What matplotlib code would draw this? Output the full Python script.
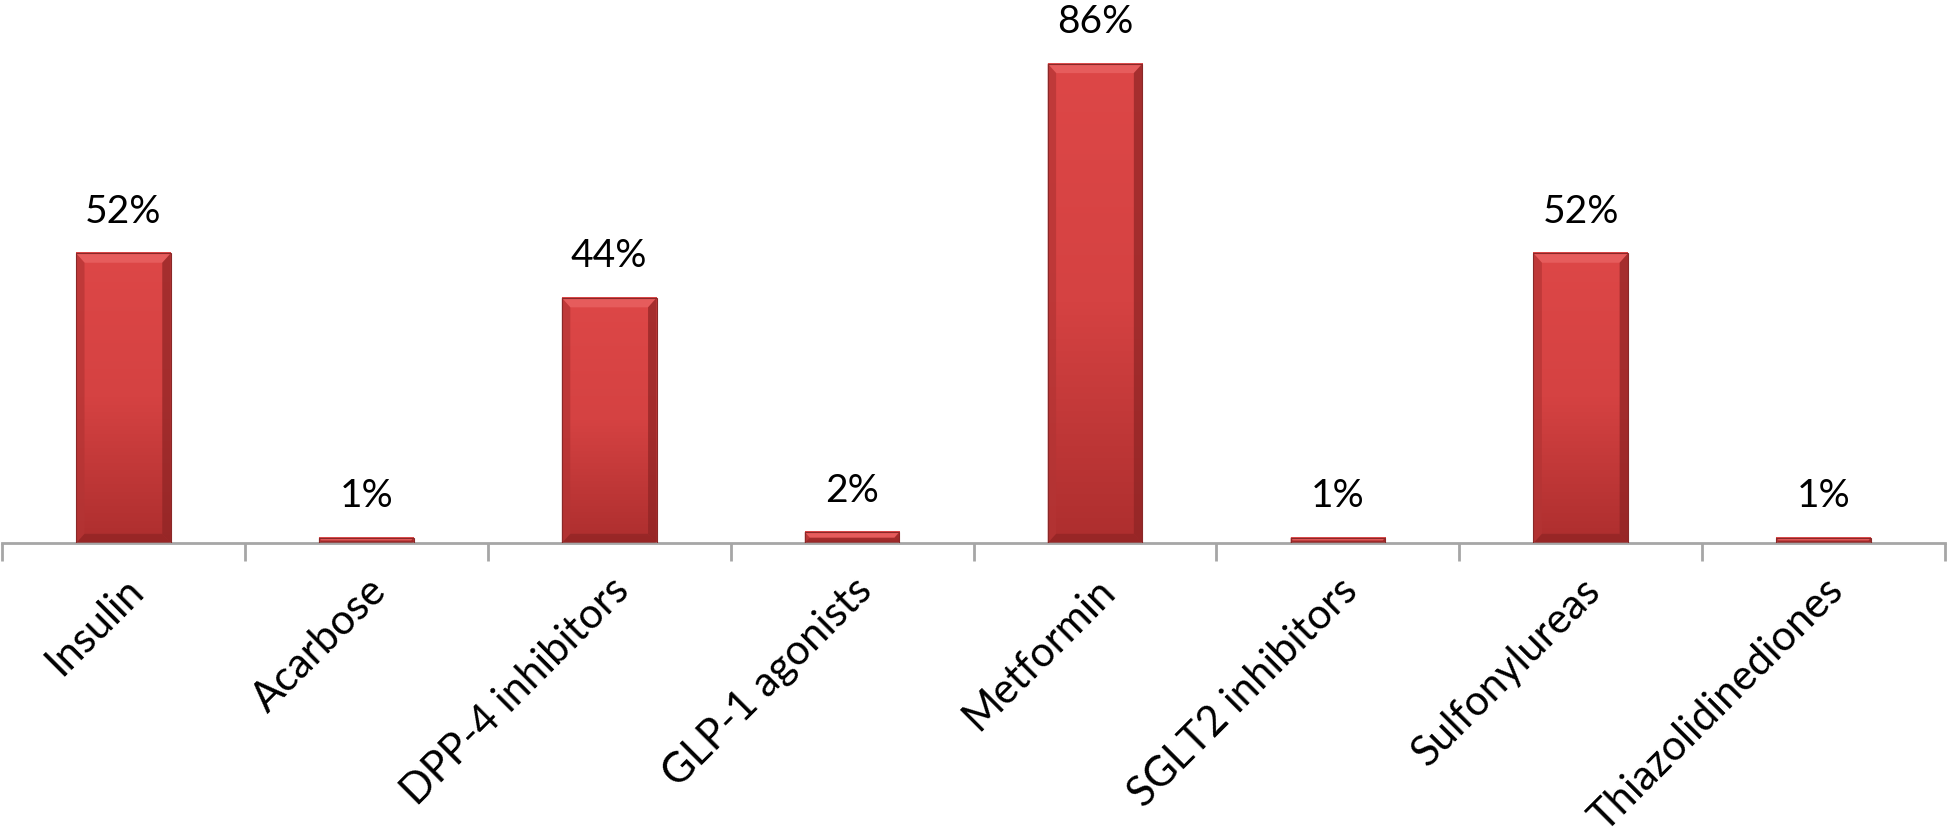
import numpy as np
import matplotlib
matplotlib.use('Agg')
import matplotlib.pyplot as plt
from matplotlib.patches import Polygon
from matplotlib.colors import LinearSegmentedColormap

# 資料
drugs = ['Insulin', 'Acarbose', 'DPP-4 inhibitors', 'GLP-1 agonists',
         'Metformin', 'SGLT2 inhibitors', 'Sulfonylureas', 'Thiazolidinediones']
usage = [52, 1, 44, 2, 86, 1, 52, 1]
value_labels = ['52%', '1%', '44%', '2%', '86%', '1%', '52%', '1%']

plt.rcParams['font.family'] = ['Lato', 'DejaVu Sans']

fig = plt.figure(figsize=(19.49, 8.32), dpi=100)
ax = fig.add_axes([0.001, 0.347, 0.997, 0.6])

x = np.arange(len(drugs))
bars = ax.bar(x, usage, width=0.39, color='#cf3f3f', zorder=2)

ax.set_xlim(-0.5, len(drugs) - 0.5)
ax.set_ylim(0, 89.5)

# 漸層 + 斜角效果
cmap = LinearSegmentedColormap.from_list('bar', ['#ad2e2e', '#d54242', '#dd4747'])
grad = np.linspace(0, 1, 256).reshape(-1, 1)
bx = 0.035   # 斜角寬度 (x 資料單位)
by = 1.7     # 斜角高度 (y 資料單位)
for b in bars:
    x0, y0 = b.get_x(), b.get_y()
    w, h = b.get_width(), b.get_height()
    b.set_visible(False)
    ax.imshow(grad, extent=(x0, x0 + w, y0, y0 + h), origin='lower', cmap=cmap,
              aspect='auto', zorder=2, interpolation='bilinear')
    dy = min(by, h / 2)
    dx = bx * dy / by
    top = Polygon([(x0, h), (x0 + w, h), (x0 + w - dx, h - dy), (x0 + dx, h - dy)],
                  closed=True, facecolor='#e65c5c', edgecolor='none', zorder=3)
    left = Polygon([(x0, 0), (x0, h), (x0 + dx, h - dy), (x0 + dx, dy)],
                   closed=True, facecolor='#b43434', edgecolor='none', zorder=3, alpha=0.7)
    right = Polygon([(x0 + w, 0), (x0 + w, h), (x0 + w - dx, h - dy), (x0 + w - dx, dy)],
                    closed=True, facecolor='#8e2424', edgecolor='none', zorder=3, alpha=0.7)
    bottom = Polygon([(x0, 0), (x0 + w, 0), (x0 + w - dx, dy), (x0 + dx, dy)],
                     closed=True, facecolor='#8a2222', edgecolor='none', zorder=3, alpha=0.6)
    for p in (top, left, right, bottom):
        ax.add_patch(p)
    ax.add_patch(plt.Rectangle((x0, y0), w, h, fill=False, edgecolor='#8a2828',
                               linewidth=0.8, zorder=4))

for i, v in enumerate(usage):
    ax.annotate(value_labels[i], (x[i], v), xytext=(0, 17), textcoords='offset points',
                ha='center', va='bottom', fontsize=28, color='black')

# 座標軸
for s in ['top', 'right', 'left']:
    ax.spines[s].set_visible(False)
ax.spines['bottom'].set_color('#a6a6a6')
ax.spines['bottom'].set_linewidth(2)
ax.set_yticks([])
ax.set_xticks(np.arange(len(drugs) + 1) - 0.5, minor=False)
ax.set_xticklabels([])
ax.tick_params(axis='x', which='major', length=13, width=2, color='#a6a6a6', direction='out')
ax.set_xticks(x, minor=True)
ax.set_xticklabels(drugs, minor=True, rotation=45, ha='right', rotation_mode='anchor',
                   fontsize=30)
ax.tick_params(axis='x', which='minor', length=0, pad=20)

fig.savefig('out.png', dpi=100, facecolor='white')
